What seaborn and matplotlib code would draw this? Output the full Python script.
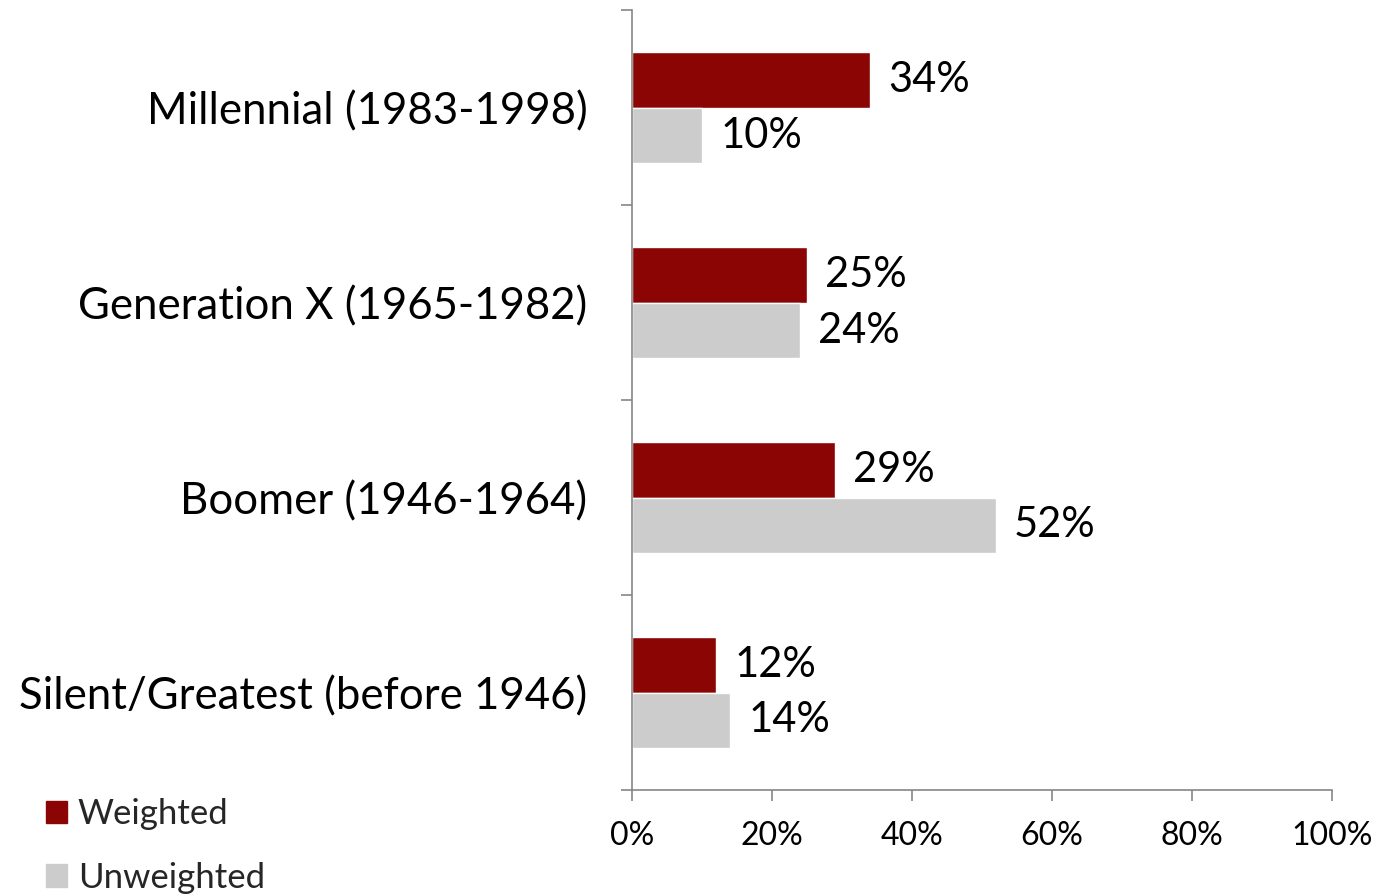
import pandas as pd
import numpy as np
import matplotlib.pyplot as plt
import seaborn as sns
from matplotlib.patches import Patch

# chart data
generations = ["Millennial (1983-1998)", "Generation X (1965-1982)",
               "Boomer (1946-1964)", "Silent/Greatest (before 1946)"]
weighted = [34, 25, 29, 12]
unweighted = [10, 24, 52, 14]
series_names = ["Weighted", "Unweighted"]
x_ticks = [0, 20, 40, 60, 80, 100]

df = pd.DataFrame({
    "generation": generations * 2,
    "share": weighted + unweighted,
    "series": [series_names[0]] * 4 + [series_names[1]] * 4,
})

sns.set_style("white")
plt.rcParams['font.family'] = ['Lato', 'DejaVu Sans']

fig = plt.figure(figsize=(13.93, 8.96), dpi=100)
ax = fig.add_axes([0.4537, 0.1183, 0.5025, 0.8705])

palette = {"Weighted": "#8B0505", "Unweighted": "#CCCCCC"}
sns.barplot(data=df, y="generation", x="share", hue="series", order=generations,
            hue_order=series_names, palette=palette, orient="h", width=0.574,
            saturation=1, ax=ax, legend=False)

for cont in ax.containers:
    ax.bar_label(cont, labels=[f"{v:.0f}%" for v in cont.datavalues],
                 padding=13, fontsize=30, color="black")

ax.set_xlim(0, 100)
ax.set_ylim(3.5, -0.5)
ax.set_xticks(x_ticks)
ax.set_xticklabels([f"{t}%" for t in x_ticks], fontsize=23)
ax.set_xlabel("")
ax.set_ylabel("")

# category labels in the middle, ticks on the band boundaries
ax.set_yticks(np.arange(len(generations)))
ax.set_yticklabels(generations, fontsize=31.5, color="black")
ax.set_yticks(np.arange(-0.5, len(generations), 1.0), minor=True)
ax.tick_params(axis="y", which="major", left=False, length=0, pad=32)
ax.tick_params(axis="y", which="minor", left=True, length=8, width=1.2,
               color="#868686", direction="out")
ax.tick_params(axis="x", bottom=True, length=8, width=1.2, color="#868686",
               direction="out", pad=14, labelcolor="black")

for side in ["top", "right"]:
    ax.spines[side].set_visible(False)
for side in ["left", "bottom"]:
    ax.spines[side].set_color("#868686")
    ax.spines[side].set_linewidth(1.2)

handles = [Patch(color=palette[s]) for s in series_names]
fig.legend(handles, series_names, loc="upper left", bbox_to_anchor=(0.033, 0.109),
           frameon=False, fontsize=25, handlelength=0.62, handleheight=0.62,
           handletextpad=0.3, labelspacing=0.9, borderpad=0, borderaxespad=0)

fig.savefig("out.png", dpi=100)
